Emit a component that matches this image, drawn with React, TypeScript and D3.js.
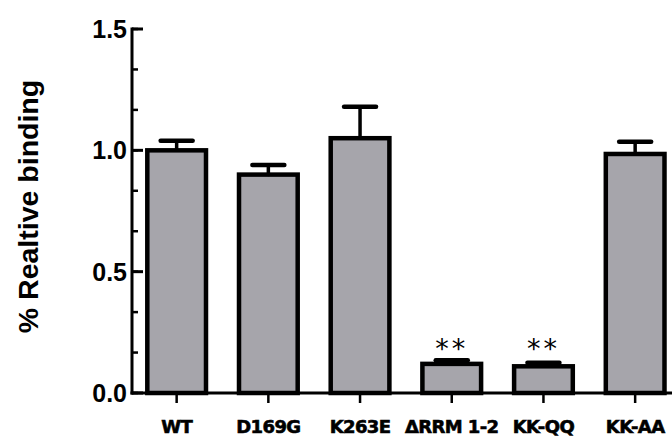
import React from "react";
import * as d3 from "d3";

const categories = ["WT", "D169G", "K263E", "ΔRRM 1-2", "KK-QQ", "KK-AA"];
const means = [1.0, 0.9, 1.05, 0.12, 0.11, 0.985];
const sems = [0.04, 0.04, 0.13, 0.015, 0.015, 0.05];
const marks = ["", "", "", "**", "**", ""];
const yTicks = [0, 0.5, 1.0, 1.5];

const W = 672;
const H = 437;

const App = () => {
  const y = d3.scaleLinear().domain([0, 1.5]).range([393, 29]);
  const x = d3
    .scaleBand()
    .domain(categories)
    .range([130.8, 681])
    .paddingInner(0.36)
    .paddingOuter(0.18);

  const axisX = 132;
  const minor = d3.range(0, 1.5 + 1e-6, 0.5 / 3);
  const fmt = d3.format(".1f");
  const bw = x.bandwidth();

  return (
    <svg width={W} height={H} style={{ position: "absolute", left: 0, top: 0 }}>
      <rect width={W} height={H} fill="#fff" />

      {/* bars */}
      {categories.map((c, i) => (
        <rect
          key={c}
          x={x(c)}
          y={y(means[i])}
          width={bw}
          height={y(0) - y(means[i])}
          fill="#a6a5ab"
          stroke="#000"
          strokeWidth={4.5}
        />
      ))}

      {/* error bars */}
      {categories.map((c, i) => {
        const cx = x(c) + bw / 2;
        const top = y(means[i] + sems[i]);
        return (
          <g key={c} stroke="#000" strokeLinecap="round">
            <line x1={cx} x2={cx} y1={y(means[i])} y2={top} strokeWidth={3.5} />
            <line x1={cx - 16} x2={cx + 16} y1={top} y2={top} strokeWidth={4.5} />
          </g>
        );
      })}

      {/* significance */}
      {categories.map((c, i) =>
        marks[i] ? (
          <text
            key={c}
            x={x(c) + bw / 2}
            y={358}
            textAnchor="middle"
            fontFamily="DejaVu Sans"
            fontSize={27}
            letterSpacing={3}
          >
            {marks[i]}
          </text>
        ) : null
      )}

      {/* y axis */}
      <line x1={axisX} x2={axisX} y1={y(1.5) - 1.5} y2={y(0) + 1.5} stroke="#000" strokeWidth={3} />
      {minor.map((v) => (
        <line key={"m" + v} x1={axisX} x2={axisX + 6} y1={y(v)} y2={y(v)} stroke="#000" strokeWidth={2.5} />
      ))}
      {yTicks.map((v) => (
        <g key={v}>
          <line x1={axisX} x2={axisX + 11} y1={y(v)} y2={y(v)} stroke="#000" strokeWidth={3} />
          <text
            x={127}
            y={y(v) + 9}
            textAnchor="end"
            fontFamily="Liberation Sans, Arial, sans-serif"
            fontWeight="bold"
            fontSize={25}
          >
            {fmt(v)}
          </text>
        </g>
      ))}

      {/* x axis */}
      <line x1={axisX - 1.5} x2={W} y1={y(0)} y2={y(0)} stroke="#000" strokeWidth={3} />
      {categories.map((c) => {
        const cx = x(c) + bw / 2;
        return (
          <g key={c}>
            <line x1={cx} x2={cx} y1={y(0)} y2={y(0) + 10} stroke="#000" strokeWidth={2.5} />
            <text
              x={cx}
              y={433}
              textAnchor="middle"
              fontFamily="DejaVu Sans"
              fontWeight="bold"
              fontSize={18}
              letterSpacing={-0.6}
              stroke="#000"
              strokeWidth={0.6}
            >
              {c}
            </text>
          </g>
        );
      })}

      {/* y label */}
      <text
        transform="translate(38,206.5) rotate(-90)"
        textAnchor="middle"
        fontFamily="Liberation Sans, Arial, sans-serif"
        fontWeight="bold"
        fontSize={28.5}
      >
        % Realtive binding
      </text>
    </svg>
  );
};

export default App;
